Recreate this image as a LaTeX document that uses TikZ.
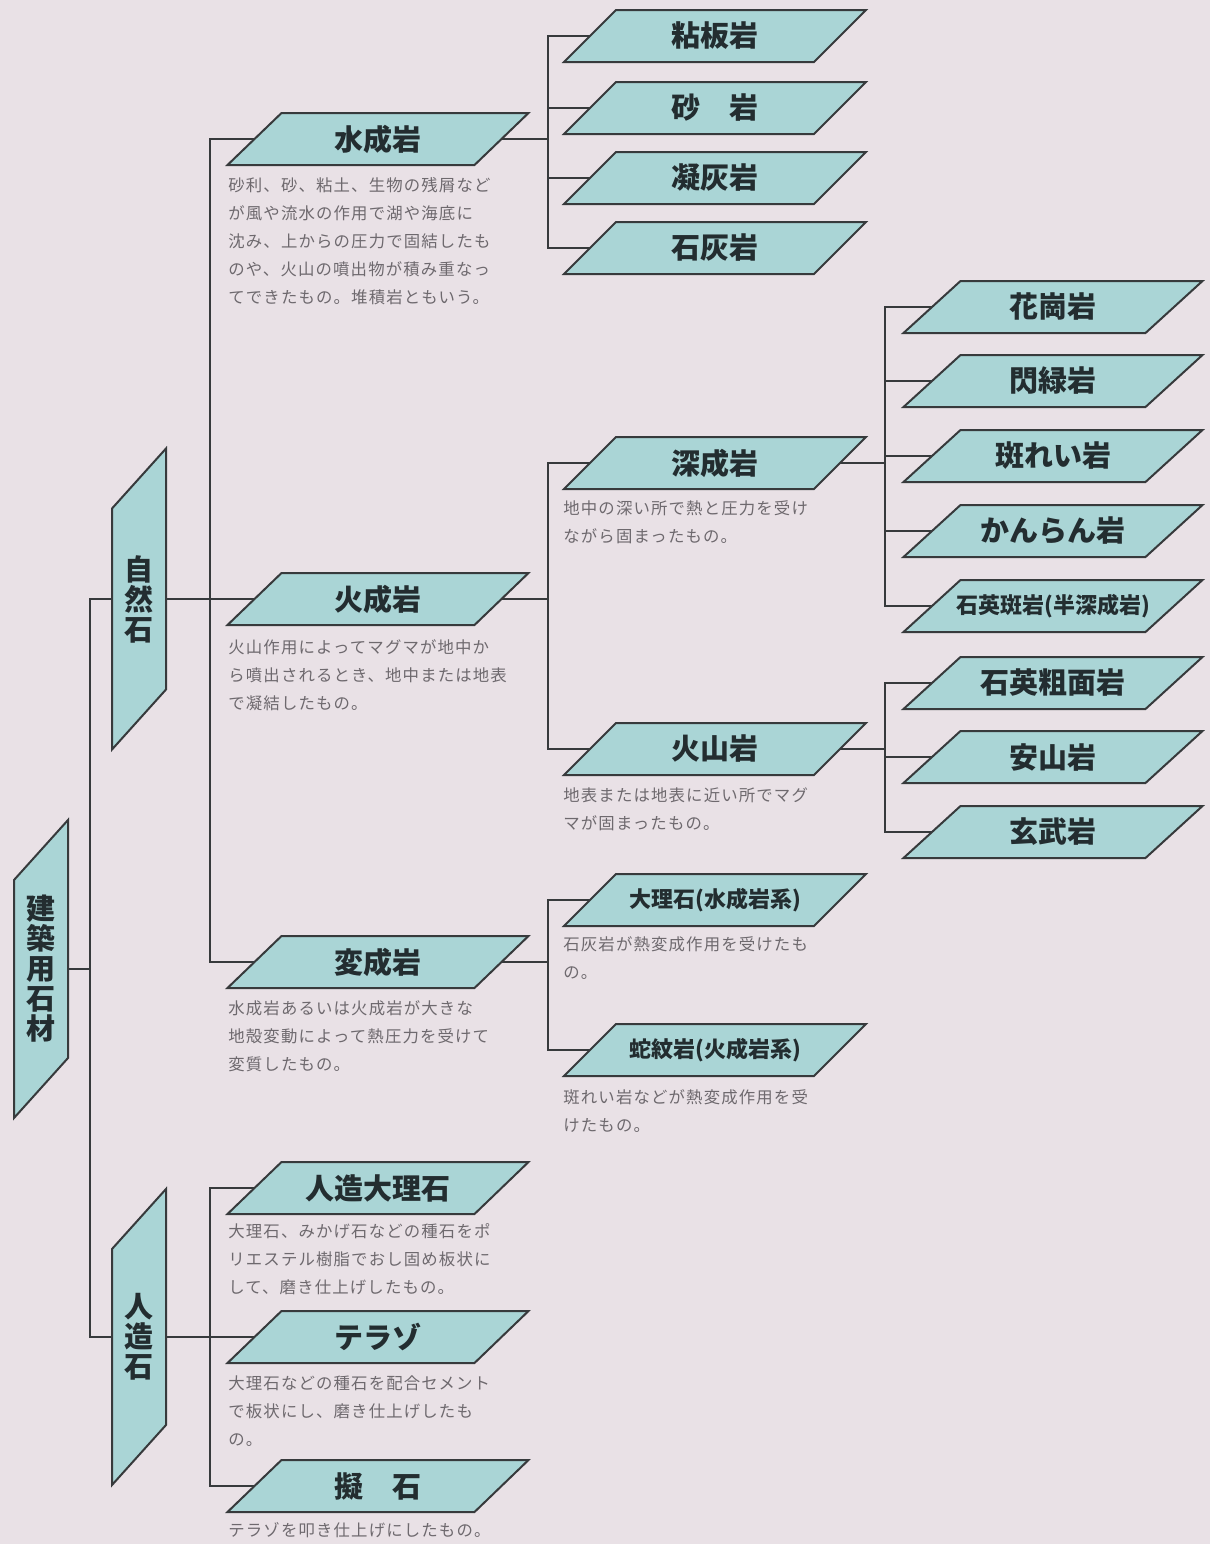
\documentclass[tikz,border=0pt]{standalone}
\usepackage{fontspec}
\newfontfamily\jp{Noto Sans CJK JP}
\newfontfamily\jpd[LetterSpace=7]{Noto Sans CJK JP}
\definecolor{bg}{RGB}{233,225,230}
\definecolor{boxfill}{RGB}{170,213,214}
\definecolor{ln}{RGB}{55,58,60}
\definecolor{txt}{RGB}{35,45,48}
\definecolor{desc}{RGB}{110,105,110}
\tikzset{
  pgshape/.style={fill=boxfill, draw=ln, line width=1pt, line join=miter},
  pglabel/.style={inner sep=0pt, minimum height=26pt, text=txt},
  lbl/.style={font=\jp\bfseries\fontsize{14.5}{15}\selectfont},
  lblsm/.style={font=\jp\bfseries\fontsize{11}{12}\selectfont},
  lblv/.style={font=\jp\bfseries\fontsize{14.5}{15}\selectfont, align=center},
  conn/.style={draw=ln, line width=0.9pt},
  descr/.style={anchor=north west, inner sep=0pt, align=left, text=desc,
    font=\jpd\fontsize{8.2}{14}\selectfont}
}
% name, cx, cy, W, s, text, style
\newcommand\hpg[7]{%
  \filldraw[pgshape] (#2,#3) ++({-#4/2-#5/2},26) -- ++(#4,0) -- ++(#5,-52) -- ++(-#4,0) -- cycle;
  \node[pglabel, minimum width={#4*0.5pt}, #7] (#1) at (#2,#3) {#6};}
% name, cx, cy, H, text
\newcommand\vpg[5]{%
  \filldraw[pgshape] (#2,#3) ++(-27,{-#4/2+30}) -- ++(54,-60) -- ++(0,#4) -- ++(-54,60) -- cycle;
  \node[pglabel, minimum width=27pt, minimum height={#4*0.5pt}, lblv] (#1) at (#2,#3) {#5};}
\begin{document}
\begin{tikzpicture}[x=0.5pt, y=-0.5pt]
\fill[bg] (0,0) rectangle (1210,1544);
\useasboundingbox (0,0) rectangle (1210,1544);

% level 1
\vpg{root}{41}{969}{238}{建\\築\\用\\石\\材}
\vpg{shizen}{139}{599}{241}{自\\然\\石}
\vpg{jinzo}{139}{1337}{236}{人\\造\\石}

% level 2
\hpg{suisei}{378}{139}{247}{54}{水成岩}{lbl}
\hpg{kasei}{378}{599}{247}{54}{火成岩}{lbl}
\hpg{hensei}{378}{962}{247}{54}{変成岩}{lbl}
\hpg{jdairi}{378}{1188}{247}{54}{人造大理石}{lbl}
\hpg{terazo}{378}{1337}{247}{54}{テラゾ}{lbl}
\hpg{giseki}{378}{1486}{247}{54}{擬　石}{lbl}

% level 3
\hpg{nenban}{715}{36}{250}{52}{粘板岩}{lbl}
\hpg{sagan}{715}{108}{250}{52}{砂　岩}{lbl}
\hpg{gyokai}{715}{178}{250}{52}{凝灰岩}{lbl}
\hpg{sekkai}{715}{248}{250}{52}{石灰岩}{lbl}
\hpg{shinsei}{715}{463}{250}{52}{深成岩}{lbl}
\hpg{kazan}{715}{749}{250}{52}{火山岩}{lbl}
\hpg{dairi}{715}{900}{250}{52}{大理石(水成岩系)}{lblsm}
\hpg{jamon}{715}{1050}{250}{52}{蛇紋岩(火成岩系)}{lblsm}

% level 4
\hpg{kako}{1053}{307}{242}{57}{花崗岩}{lbl}
\hpg{senryoku}{1053}{381}{242}{57}{閃緑岩}{lbl}
\hpg{hanrei}{1053}{456}{242}{57}{斑れい岩}{lbl}
\hpg{kanran}{1053}{531}{242}{57}{かんらん岩}{lbl}
\hpg{sekiei}{1053}{606}{242}{57}{石英斑岩(半深成岩)}{lblsm}
\hpg{somen}{1053}{683}{242}{57}{石英粗面岩}{lbl}
\hpg{anzan}{1053}{757}{242}{57}{安山岩}{lbl}
\hpg{genbu}{1053}{832}{242}{57}{玄武岩}{lbl}

% connectors
\coordinate (j1) at (90,969);
\draw[conn] (root.east) -- (j1);
\draw[conn] (shizen.west) -| (j1) |- (jinzo.west);

\coordinate (b1) at (210,599);
\draw[conn] (shizen.east) -- (kasei.west);
\draw[conn] (suisei.west) -| (b1) |- (hensei.west);

\coordinate (b2) at (210,1337);
\draw[conn] (jinzo.east) -- (terazo.west);
\draw[conn] (jdairi.west) -| (b2) |- (giseki.west);

\coordinate (c1) at (548,139);
\draw[conn] (suisei.east) -- (c1);
\draw[conn] (nenban.west) -| (c1) |- (sekkai.west);
\draw[conn] (sagan.west) -- (sagan.west -| c1);
\draw[conn] (gyokai.west) -- (gyokai.west -| c1);

\coordinate (c2) at (548,599);
\draw[conn] (kasei.east) -- (c2);
\draw[conn] (shinsei.west) -| (c2) |- (kazan.west);

\coordinate (c3) at (548,962);
\draw[conn] (hensei.east) -- (c3);
\draw[conn] (dairi.west) -| (c3) |- (jamon.west);

\coordinate (d1) at (885,463);
\draw[conn] (shinsei.east) -- (d1);
\draw[conn] (kako.west) -| (d1) |- (sekiei.west);
\draw[conn] (senryoku.west) -- (senryoku.west -| d1);
\draw[conn] (hanrei.west) -- (hanrei.west -| d1);
\draw[conn] (kanran.west) -- (kanran.west -| d1);

\coordinate (d2) at (885,749);
\draw[conn] (kazan.east) -- (d2);
\draw[conn] (somen.west) -| (d2) |- (genbu.west);
\draw[conn] (anzan.west) -- (anzan.west -| d2);

% descriptions
\node[descr] (t1) at (228,177) {砂利、砂、粘土、生物の残屑など\\が風や流水の作用で湖や海底に\\沈み、上からの圧力で固結したも\\のや、火山の噴出物が積み重なっ\\てできたもの。堆積岩ともいう。};
\node[descr] (t2) at (228,639) {火山作用によってマグマが地中か\\ら噴出されるとき、地中または地表\\で凝結したもの。};
\node[descr] (t3) at (228,1000) {水成岩あるいは火成岩が大きな\\地殻変動によって熱圧力を受けて\\変質したもの。};
\node[descr] (t4) at (228,1223) {大理石、みかげ石などの種石をポ\\リエステル樹脂でおし固め板状に\\して、磨き仕上げしたもの。};
\node[descr] (t5) at (228,1375) {大理石などの種石を配合セメント\\で板状にし、磨き仕上げしたも\\の。};
\node[descr] (t6) at (228,1522) {テラゾを叩き仕上げにしたもの。};
\node[descr] (t7) at (563,500) {地中の深い所で熱と圧力を受け\\ながら固まったもの。};
\node[descr] (t8) at (563,787) {地表または地表に近い所でマグ\\マが固まったもの。};
\node[descr] (t9) at (563,936) {石灰岩が熱変成作用を受けたも\\の。};
\node[descr] (t10) at (563,1089) {斑れい岩などが熱変成作用を受\\けたもの。};
\end{tikzpicture}
\end{document}
